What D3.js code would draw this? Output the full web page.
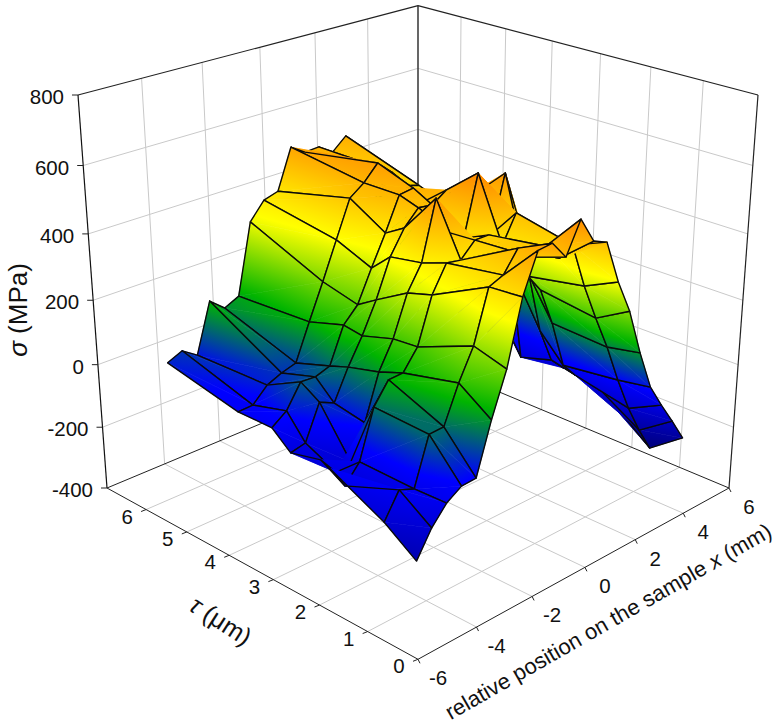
<!DOCTYPE html>
<meta charset="utf-8">
<style>
    body { margin: 0; background: #fff; }
    text { font-family: "Liberation Sans", Arial, sans-serif; fill: #111; }
</style>
<svg width="784" height="725"></svg>
<script src="https://d3js.org/d3.v7.min.js"></script>
<script>

    var xPositions = d3.range(21).map(function (k) { return -5.5 + k * 0.5; });
    var tauPositions = [6.0, 4.36, 3.6, 3.2, 2.55, 2.05, 0.95, 0.32];

    var sigmaTau60 = [null, 31, 51, 20, 172, 134, 155, 369, 421, 434, 554, 526, 529, 500, 537, 433, 341, 246, 149, 51, -50];
    var sigmaTau44 = [null, -18, -16, 27, 46, 59, 168, 273, 383, 492, 523, 568, 528, 473, 461, 324, 231, 136, 39, -43, -111];
    var sigmaTau36 = [null, -17, 15, 84, 81, 96, 202, 246, 339, 427, 524, 530, 481, 422, 423, 271, 177, 98, 17, -66, -100];
    var sigmaTau32 = [null, -66, -56, 48, 27, 117, 193, 283, 393, 462, 506, 500, 529, 487, 487, 503, 474, 230, -81, -69, -109];
    var sigmaTau26 = [null, -43, -100, -89, 9, 142, 222, 339, 410, 579, 466, 436, 609, 416, 582, 442, 250, 60, -51, -94, -96];
    var sigmaTau20 = [-13, -86, -35, 107, 168, 170, 228, 361, 436, 429, 471, 471, 426, 505, 304, 247, 129, -20, -69, -90, -135];
    var sigmaTau10 = [-93, -20, -38, 100, 102, 209, 296, 444, 461, 520, 480, 495, 446, 468, 335, 224, 120, 1, -106, -195, -273];
    var sigmaTau03 = [-159, -85, -34, -6, -3, 144, 269, 451, 562, 566, 513, 602, 527, 509, 381, 280, 140, 18, -56, -125, -198];
    var sigmaRows = [sigmaTau60, sigmaTau44, sigmaTau36, sigmaTau32, sigmaTau26, sigmaTau20, sigmaTau10, sigmaTau03];

    var xTicks = [-6, -4, -2, 0, 2, 4, 6];
    var tauTicks = [0, 1, 2, 3, 4, 5, 6];
    var sigmaTicks = [-400, -200, 0, 200, 400, 600, 800];

    var colorStops = [-260, 0, 170, 385, 600];
    var colorValues = ["#000080", "#0000ff", "#00b400", "#ffff00", "#ff8c00"];

    var svg = d3.select("svg"),
        defs = svg.append("defs");

    var xScale = d3.scaleLinear().domain([-6, 6]).range([0, 1]);
    var tauScale = d3.scaleLinear().domain([0, 7]).range([0, 1]);
    var sigmaScale = d3.scaleLinear().domain([-400, 800]).range([0, 1]);
    var color = d3.scaleLinear().domain(colorStops).range(colorValues).clamp(true);

    // perspective camera, fitted on the corners of the box
    function project(x, tau, sigma) {
        var u = xScale(x), v = tauScale(tau), w = sigmaScale(sigma);
        var t = u + v - 1;
        var d = 1 + 0.1371 * t - 0.0853 * w;
        return [418 + 311 * (u - v) / d, (488 - 80.9 * t - 401.1 * w) / d];
    }

    var xMin = -6, xMax = 6, tauMin = 0, tauMax = 7, sMin = -400, sMax = 800;
    var line = d3.line();

    function segment(g, a, b, stroke, width) {
        g.append("path").attr("d", line([a, b]))
            .attr("fill", "none").attr("stroke", stroke).attr("stroke-width", width);
    }

    // walls and floor grid
    var grid = svg.append("g");
    var gridColor = "#c9c9c9";
    xTicks.slice(1, -1).forEach(function (x) {
        segment(grid, project(x, tauMax, sMin), project(x, tauMax, sMax), gridColor, 1);
        segment(grid, project(x, tauMin, sMin), project(x, tauMax, sMin), gridColor, 1);
    });
    tauTicks.slice(1).forEach(function (tau) {
        segment(grid, project(xMax, tau, sMin), project(xMax, tau, sMax), gridColor, 1);
        segment(grid, project(xMin, tau, sMin), project(xMax, tau, sMin), gridColor, 1);
    });
    sigmaTicks.slice(1, -1).forEach(function (s) {
        segment(grid, project(xMin, tauMax, s), project(xMax, tauMax, s), gridColor, 1);
        segment(grid, project(xMax, tauMax, s), project(xMax, tauMin, s), gridColor, 1);
    });

    // box edges
    var box = svg.append("g");
    segment(box, project(xMax, tauMax, sMin), project(xMax, tauMax, sMax), "#404040", 1.6);
    segment(box, project(xMin, tauMax, sMax), project(xMax, tauMax, sMax), "#222", 1.2);
    segment(box, project(xMax, tauMax, sMax), project(xMax, tauMin, sMax), "#222", 1.2);
    segment(box, project(xMin, tauMax, sMin), project(xMin, tauMax, sMax), "#111", 1.2);
    segment(box, project(xMax, tauMin, sMin), project(xMax, tauMin, sMax), "#222", 1.2);
    segment(box, project(xMin, tauMax, sMin), project(xMax, tauMax, sMin), "#222", 1);
    segment(box, project(xMax, tauMax, sMin), project(xMax, tauMin, sMin), "#222", 1);
    segment(box, project(xMin, tauMax, sMin), project(xMin, tauMin, sMin), "#222", 1);
    segment(box, project(xMin, tauMin, sMin), project(xMax, tauMin, sMin), "#222", 1);

    // ticks and tick labels
    function label(pos, dx, dy, txt, anchor) {
        svg.append("text").attr("x", pos[0] + dx).attr("y", pos[1] + dy)
            .attr("text-anchor", anchor).attr("font-size", 20.5).text(txt);
    }

    sigmaTicks.forEach(function (s) {
        var p = project(xMin, tauMax, s);
        segment(box, [p[0] - 6, p[1]], p, "#222", 1);
        label(p, -14, 9, s, "end");
    });
    tauTicks.forEach(function (tau) {
        var p = project(xMin, tau, sMin);
        segment(box, [p[0] - 5, p[1] + 2], p, "#222", 1);
        label(p, -19, 14, tau, "middle");
    });
    xTicks.forEach(function (x) {
        var p = project(x, tauMin, sMin);
        segment(box, p, [p[0] + 2, p[1] + 4], "#222", 1);
        label(p, 20, 26, x, "middle");
    });

    // one gradient per facet, running across the lines of equal sigma
    var gradientCount = 0;

    function facetFill(nodes) {
        var sorted = nodes.slice().sort(function (a, b) { return a.s - b.s; });
        var lo = sorted[0], mid = sorted[1], hi = sorted[2];
        if (hi.s - lo.s < 0.01) return color(lo.s);

        var k = (mid.s - lo.s) / (hi.s - lo.s);
        var mx = lo.p[0] + k * (hi.p[0] - lo.p[0]), my = lo.p[1] + k * (hi.p[1] - lo.p[1]);
        var ex = mid.p[0] - mx, ey = mid.p[1] - my;
        var len = Math.sqrt(ex * ex + ey * ey);
        var dx = hi.p[0] - lo.p[0], dy = hi.p[1] - lo.p[1];
        var gx = dx, gy = dy;
        if (len > 0.01) {
            var along = (dx * ex + dy * ey) / (len * len);
            gx = dx - along * ex;
            gy = dy - along * ey;
        }

        var id = "facet" + (gradientCount++);
        var gradient = defs.append("linearGradient").attr("id", id)
            .attr("gradientUnits", "userSpaceOnUse")
            .attr("x1", lo.p[0]).attr("y1", lo.p[1])
            .attr("x2", lo.p[0] + gx).attr("y2", lo.p[1] + gy);
        var levels = [lo.s].concat(colorStops.filter(function (c) { return c > lo.s && c < hi.s; }), [hi.s]);
        levels.forEach(function (c) {
            gradient.append("stop")
                .attr("offset", (c - lo.s) / (hi.s - lo.s))
                .attr("stop-color", color(c));
        });
        return "url(#" + id + ")";
    }

    function node(i, j) {
        var s = sigmaRows[i][j];
        return { s: s, p: project(xPositions[j], tauPositions[i], s) };
    }

    // surface, far cells first
    var surface = svg.append("g");
    for (var j = xPositions.length - 2; j >= 0; j--) {
        for (var i = 0; i < tauPositions.length - 1; i++) {
            if (sigmaRows[i][j] === null || sigmaRows[i + 1][j] === null) continue;
            var a = node(i, j), b = node(i, j + 1), c = node(i + 1, j + 1), d = node(i + 1, j);
            var cell = surface.append("g");
            [[a, b, c], [a, c, d]].forEach(function (tri) {
                var fill = facetFill(tri);
                cell.append("path")
                    .attr("d", line(tri.map(function (n) { return n.p; })) + "Z")
                    .attr("fill", fill).attr("stroke", fill).attr("stroke-width", 0.6);
            });
            cell.append("path")
                .attr("d", line([a.p, b.p, c.p, d.p]) + "Z")
                .attr("fill", "none").attr("stroke", "#0a0a0a")
                .attr("stroke-width", 1.4).attr("stroke-linejoin", "round");
        }
    }

    // axis titles
    var sigmaTitle = svg.append("text").attr("font-size", 26)
        .attr("text-anchor", "middle")
        .attr("transform", "translate(27,310) rotate(-90)");
    sigmaTitle.append("tspan").attr("font-style", "italic").text("σ");
    sigmaTitle.append("tspan").text(" (MPa)");

    var tauTitle = svg.append("text").attr("font-size", 25)
        .attr("text-anchor", "middle")
        .attr("transform", "translate(216,628) rotate(33)");
    tauTitle.append("tspan").attr("font-style", "italic").text("τ");
    tauTitle.append("tspan").text(" (μm)");

    var xTitle = svg.append("text").attr("font-size", 22)
        .attr("text-anchor", "middle")
        .attr("transform", "translate(612,628) rotate(-29.8)");
    xTitle.append("tspan").text("relative position on the sample ");
    xTitle.append("tspan").attr("font-style", "italic").text("x");
    xTitle.append("tspan").text(" (mm)");

</script>
